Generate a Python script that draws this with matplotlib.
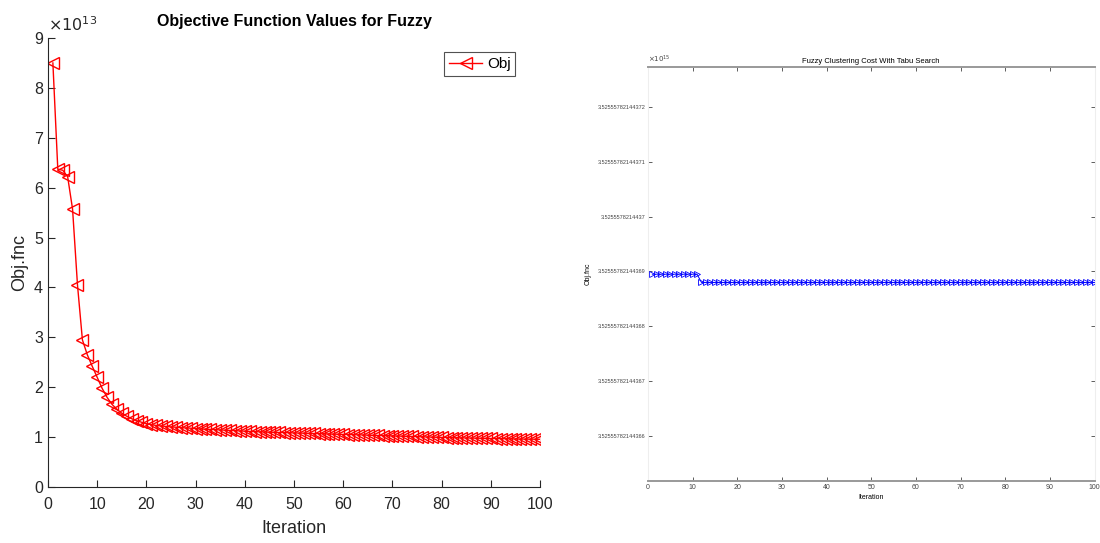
import numpy as np
import matplotlib
matplotlib.use("Agg")
import matplotlib.pyplot as plt

plt.rcParams['font.family'] = ['Liberation Sans', 'DejaVu Sans']

# left panel: fuzzy objective per iteration (x 1e13)
fuzzy_iter = list(range(1, 101))
fuzzy_obj = [
    8.50, 6.37, 6.35, 6.22, 5.57, 4.05, 2.95, 2.65, 2.42, 2.20,
    1.98, 1.80, 1.66, 1.56, 1.48, 1.42, 1.37, 1.33, 1.30, 1.27,
    1.25, 1.235, 1.225, 1.215, 1.205, 1.20, 1.19, 1.185, 1.18, 1.17,
    1.165, 1.16, 1.155, 1.15, 1.145, 1.14, 1.135, 1.13, 1.125, 1.12,
    1.115, 1.11, 1.107, 1.104, 1.10, 1.097, 1.094, 1.091, 1.088, 1.085,
    1.082, 1.08, 1.077, 1.074, 1.07, 1.067, 1.064, 1.061, 1.058, 1.055,
    1.052, 1.05, 1.047, 1.044, 1.04, 1.037, 1.034, 1.031, 1.028, 1.025,
    1.022, 1.02, 1.017, 1.014, 1.01, 1.007, 1.004, 1.001, 0.998, 0.995,
    0.993, 0.99, 0.988, 0.986, 0.984, 0.982, 0.98, 0.978, 0.976, 0.974,
    0.972, 0.97, 0.968, 0.966, 0.964, 0.962, 0.961, 0.96, 0.959, 0.958,
]

# right panel: tabu search cost
tabu_iter = list(range(1, 101))
tabu_cost = [3525557821443689.5] * 11 + [3525557821443688.0] * 89
tabu_base = 3525557821443600.0
tabu_ticks = [3525557821443660, 3525557821443670, 3525557821443680,
              3525557821443690, 3525557821443700, 3525557821443710,
              3525557821443720]
tabu_ticklabels = ["3.52555782144366", "3.52555782144367", "3.52555782144368",
                   "3.52555782144369", "3.5255578214437", "3.52555782144371",
                   "3.52555782144372"]

fig = plt.figure(figsize=(11, 5.43), dpi=100)
grey = '#262626'

# ---- left ----
ax1 = fig.add_axes([0.0436, 0.103, 0.4474, 0.827])
ax1.plot(fuzzy_iter, fuzzy_obj, color='red', lw=1, marker='<', ms=9,
         mfc='none', mec='red', mew=1, label='Obj')
ax1.set_xlim(0, 100)
ax1.set_ylim(0, 9)
ax1.set_xticks(range(0, 101, 10))
ax1.set_yticks(range(0, 10))
for s in ['top', 'right']:
    ax1.spines[s].set_visible(False)
for s in ['left', 'bottom']:
    ax1.spines[s].set_color(grey)
ax1.tick_params(direction='in', length=5, colors=grey, labelsize=11.5)
ax1.tick_params(axis='x', pad=7)
ax1.set_xlabel('Iteration', fontsize=13, color=grey, labelpad=6)
ax1.set_ylabel('Obj.fnc', fontsize=13, color=grey, labelpad=4)
ax1.set_title('Objective Function Values for Fuzzy', fontsize=11.5,
              fontweight='bold', pad=9)
ax1.text(0.0, 1.01, r'$\times10^{13}$', transform=ax1.transAxes,
         fontsize=11.5, color=grey, ha='left', va='bottom')
leg = ax1.legend(loc='upper right', bbox_to_anchor=(0.965, 0.985),
                 fancybox=False, edgecolor=grey, fontsize=11,
                 handlelength=2.2, borderpad=0.3, handletextpad=0.3)
leg.get_frame().set_linewidth(0.8)

# ---- right ----
small = ['Liberation Sans Narrow', 'Liberation Sans', 'DejaVu Sans']
ax2 = fig.add_axes([0.589, 0.114, 0.406, 0.763])
ax2.plot(tabu_iter, np.array(tabu_cost) - tabu_base, color='blue', lw=0.7,
         marker='>', ms=4, mfc='none', mec='blue', mew=0.6)
ax2.set_xlim(0, 100)
ax2.set_ylim(51.8, 127.3)
ax2.set_xticks(range(0, 101, 10))
ax2.set_xticklabels([str(v) for v in range(0, 101, 10)], family=small,
                    fontsize=5)
ax2.set_yticks([t - tabu_base for t in tabu_ticks])
ax2.set_yticklabels(tabu_ticklabels, family=small, fontsize=4)
ax2.tick_params(direction='in', length=3, width=0.6, colors='#444444',
                top=True, right=True, pad=2)
for s in ['top', 'bottom']:
    ax2.spines[s].set_color('#999999')
    ax2.spines[s].set_linewidth(1.4)
for s in ['left', 'right']:
    ax2.spines[s].set_color('#eeeeee')
    ax2.spines[s].set_linewidth(0.8)
ax2.set_title('Fuzzy Clustering Cost With Tabu Search', family=small,
              fontsize=5.5, pad=3)
ax2.set_xlabel('Iteration', family=small, fontsize=5, labelpad=2)
ax2.set_ylabel('Obj.fnc', family=small, fontsize=5)
ax2.yaxis.set_label_coords(-0.125, 0.5)
ax2.text(0.0, 1.005, r'$\times10^{15}$', transform=ax2.transAxes,
         fontsize=5, color='#444444', ha='left', va='bottom')

fig.savefig('out.png', dpi=100)
